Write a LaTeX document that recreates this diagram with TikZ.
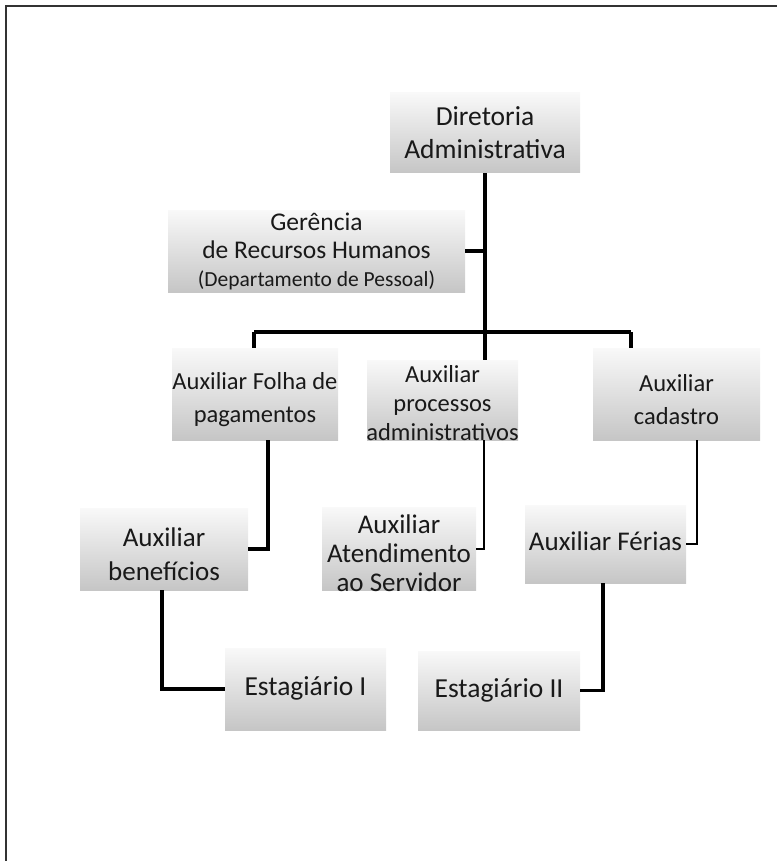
\documentclass[tikz,border=0pt]{standalone}
\usepackage{fontspec}
\setmainfont{Carlito}

\newcommand\tam[2]{\fontsize{#1}{#2}\selectfont}

\tikzset{
  caixa/.style={rectangle, draw=none, inner sep=0pt, top color=gray!5, bottom color=gray!45},
  rotulo/.style={align=center, inner sep=0pt, text=black!90},
  liga/.style={line width=3.2pt},
}

\begin{document}
\begin{tikzpicture}[x=1pt,y=-1pt]

	\useasboundingbox (0,0) rectangle (777,861);
	\draw[line width=1.8pt, black!80] (6,861) -- (6,6) -- (777,6);

	\node[caixa, minimum width=190, minimum height=80] (dir) at (485,133) {};
	\node[caixa, minimum width=297, minimum height=82] (ger) at (316.5,251) {};
	\node[caixa, minimum width=166, minimum height=92] (folha) at (255,394) {};
	\node[caixa, minimum width=151, minimum height=80] (proc) at (442.5,400) {};
	\node[caixa, minimum width=167, minimum height=92] (cad) at (676.5,394) {};
	\node[caixa, minimum width=168, minimum height=82] (benef) at (164,549) {};
	\node[caixa, minimum width=154, minimum height=83] (atend) at (399,548.5) {};
	\node[caixa, minimum width=161, minimum height=78] (ferias) at (605.5,544) {};
	\node[caixa, minimum width=161, minimum height=82] (est1) at (305.5,689) {};
	\node[caixa, minimum width=162, minimum height=79] (est2) at (499,690.5) {};

	\node[rotulo, font=\tam{27.5}{33}] (dirT) at (485,133) {Diretoria\\Administrativa};
	\node[rotulo, font=\tam{25.5}{28}] (gerT) at (316.5,251) {Gerência\\de Recursos Humanos\\{\tam{21.5}{27}(Departamento de Pessoal)}};
	\node[rotulo, font=\tam{24.5}{33}] (folhaT) at (255,400) {Auxiliar Folha de\\pagamentos};
	\node[rotulo, font=\tam{24.5}{29}] (procT) at (442.5,403) {Auxiliar\\processos\\administrativos};
	\node[rotulo, font=\tam{24.5}{33}] (cadT) at (676.5,400) {Auxiliar\\cadastro};
	\node[rotulo, font=\tam{27}{34}] (benefT) at (164,554) {Auxiliar\\benefícios};
	\node[rotulo, font=\tam{27}{29}] (atendT) at (399,553) {Auxiliar\\Atendimento\\ao Servidor};
	\node[rotulo, font=\tam{27}{33}] (feriasT) at (605.5,541) {Auxiliar Férias};
	\node[rotulo, font=\tam{27.5}{33}] (est1T) at (305.5,688) {Estagiário I};
	\node[rotulo, font=\tam{27.5}{33}] (est2T) at (499,690) {Estagiário II};

	\coordinate (bl) at (254,332); \coordinate (br) at (631,332);
	\coordinate (bm) at (485,332);

	\draw[liga] (dir.south) -- (bm) -- (bm |- proc.north);
	\draw[liga] (ger.east) -- (ger.east -| dir.south);
	\draw[liga] (bl) -- (br);
	\draw[liga] (bl) -- (bl |- folha.north); \draw[liga] (br) -- (br |- cad.north);

	\draw[liga] (benef.east) -| ([xshift=13pt]folha.south);
	\draw[line width=2pt] (atend.east) -| ([xshift=41.5pt]proc.south);
	\draw[line width=2.4pt] (ferias.east) -| ([xshift=20.5pt]cad.south);
	\draw[liga] (est1.west) -| ([xshift=-2pt]benef.south);
	\draw[liga] (est2.east) -| ([xshift=-2.5pt]ferias.south);
      \end{tikzpicture}
\end{document}
